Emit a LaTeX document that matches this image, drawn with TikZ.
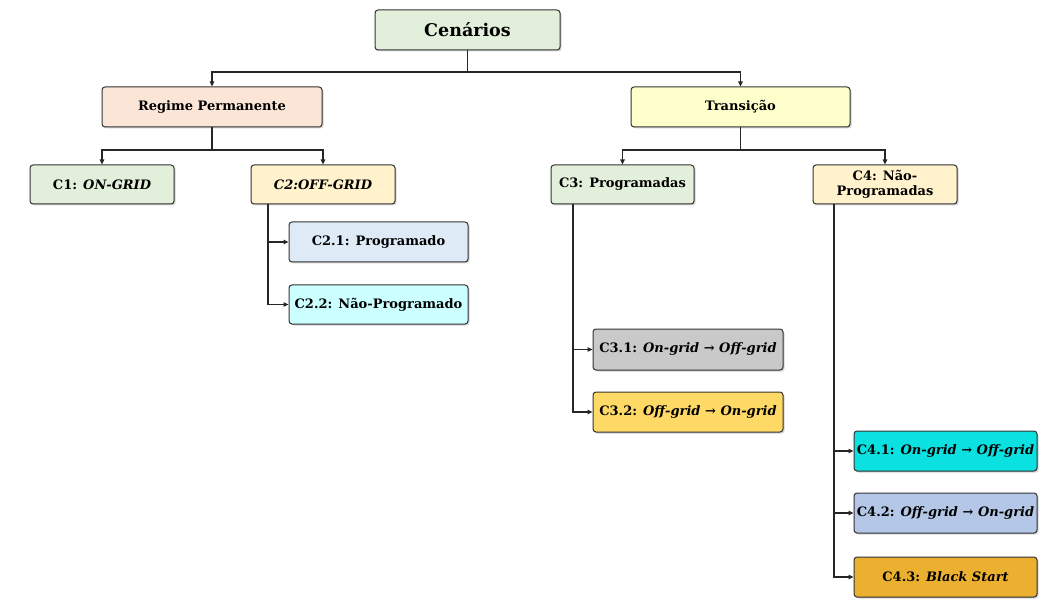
\documentclass[tikz,border=0pt]{standalone}
\usepackage{fontspec}
\setmainfont{DejaVu Serif}
\usetikzlibrary{arrows.meta,shadows}
\definecolor{cgreen}{HTML}{E2EFDA}
\definecolor{cpeach}{HTML}{FBE5D6}
\definecolor{cyell}{HTML}{FFFFCC}
\definecolor{ccream}{HTML}{FFF2CC}
\definecolor{cblue}{HTML}{DEEBF7}
\definecolor{ccyanl}{HTML}{CCFFFF}
\definecolor{cgrey}{HTML}{C9C9C9}
\definecolor{cgold}{HTML}{FFD966}
\definecolor{ccyan}{HTML}{0AE1E0}
\definecolor{csteel}{HTML}{B4C7E7}
\definecolor{corange}{HTML}{EBB030}
\tikzset{
  box/.style={draw=black!80, rounded corners=3pt, line width=1pt, align=center,
    font=\bfseries\fontsize{13}{15}\selectfont, inner sep=0pt,
    drop shadow={shadow xshift=1.5pt, shadow yshift=-1.5pt, opacity=0.35}},
  conn/.style={draw=black!85, line width=1.1pt},
  arr/.style={conn, -{Triangle[length=5pt,width=4.5pt]}},
}
\begin{document}
\begin{tikzpicture}[x=1pt,y=-1pt]
\useasboundingbox (0,0) rectangle (1051,601);
% level 0
\node[box, fill=cgreen, minimum width=185pt, minimum height=40pt, font=\bfseries\fontsize{17.5}{20}\selectfont] (cen) at (467.5,30) {Cenários};
% level 1
\node[box, fill=cpeach, minimum width=220pt, minimum height=40pt] (rp) at (212,107) {Regime Permanente};
\node[box, fill=cyell, minimum width=219pt, minimum height=40pt] (tr) at (740.5,107) {Transição};
% level 2
\node[box, fill=cgreen, minimum width=144pt, minimum height=39pt] (c1) at (102,184.5) {C1: \textit{ON-GRID}};
\node[box, fill=ccream, minimum width=144pt, minimum height=39pt] (c2) at (323,184.5) {\textit{C2:OFF-GRID}};
\node[box, fill=cgreen, minimum width=143pt, minimum height=39pt] (c3) at (622.5,184.5) {C3: Programadas};
\node[box, fill=ccream, minimum width=144pt, minimum height=39pt] (c4) at (885,184.5) {C4: Não-\\Programadas};
% level 3
\node[box, fill=cblue, minimum width=179pt, minimum height=40pt] (c21) at (378.5,242) {C2.1: Programado};
\node[box, fill=ccyanl, minimum width=179pt, minimum height=39pt] (c22) at (378.5,304.5) {C2.2: Não-Programado};
\node[box, fill=cgrey, minimum width=190pt, minimum height=41pt] (c31) at (688,349.5) {C3.1: \textit{On-grid → Off-grid}};
\node[box, fill=cgold, minimum width=190pt, minimum height=40pt] (c32) at (688,412) {C3.2: \textit{Off-grid → On-grid}};
\node[box, fill=ccyan, minimum width=183pt, minimum height=40pt] (c41) at (945.5,451) {C4.1: \textit{On-grid → Off-grid}};
\node[box, fill=csteel, minimum width=183pt, minimum height=40pt] (c42) at (945.5,513) {C4.2: \textit{Off-grid → On-grid}};
\node[box, fill=corange, minimum width=183pt, minimum height=40pt] (c43) at (945.5,577) {C4.3: \textit{Black Start}};
% junctions
\coordinate (j0) at (467.5,72);
\coordinate (j1) at (212,150);
\coordinate (j2) at (740.5,150);
\coordinate (s2) at (268,204);
\coordinate (s3) at (573,204);
\coordinate (s4) at (834,204);
% connectors
\draw[conn] (cen.south) -- (j0);
\draw[arr] (j0) -| (rp.north);
\draw[arr] (j0) -| (tr.north);
\draw[conn] (rp.south) -- (j1);
\draw[arr] (j1) -| (c1.north);
\draw[arr] (j1) -| (c2.north);
\draw[conn] (tr.south) -- (j2);
\draw[arr] (j2) -| (c3.north);
\draw[arr] (j2) -| (c4.north);
\draw[arr] (s2) |- (c21.west);
\draw[arr] (s2) |- (c22.west);
\draw[arr] (s3) |- (c31.west);
\draw[arr] (s3) |- (c32.west);
\draw[arr] (s4) |- (c41.west);
\draw[arr] (s4) |- (c42.west);
\draw[arr] (s4) |- (c43.west);
\end{tikzpicture}
\end{document}
